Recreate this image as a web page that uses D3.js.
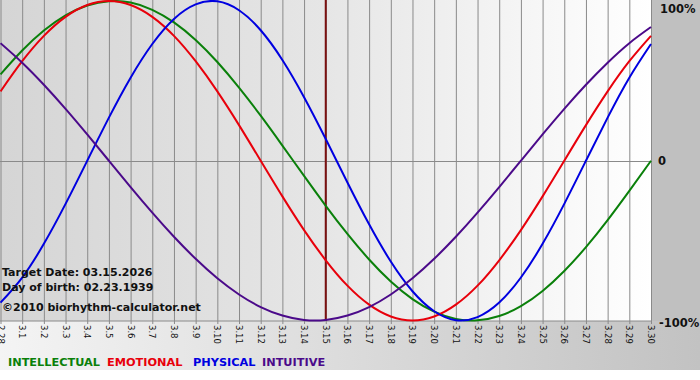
<!DOCTYPE html>
<html>
<head>
<meta charset="utf-8">
<script src="https://cdn.jsdelivr.net/npm/d3@7"></script>
<style>
  html, body { margin: 0; padding: 0; background: #ffffff; }
  svg { display: block; }
  text { font-family: "DejaVu Sans", Verdana, sans-serif; }
</style>
</head>
<body>
<svg id="chart" width="700" height="380"></svg>
<script>
// ---- data ----
const days = ["2.28","3.1","3.2","3.3","3.4","3.5","3.6","3.7","3.8","3.9","3.10",
  "3.11","3.12","3.13","3.14","3.15","3.16","3.17","3.18","3.19","3.20",
  "3.21","3.22","3.23","3.24","3.25","3.26","3.27","3.28","3.29","3.30"];
const intellectual = [0.541,0.690,0.815,0.910,0.972,0.999,0.990,0.945,0.866,0.756,0.618,
  0.458,0.282,0.095,-0.095,-0.282,-0.458,-0.618,-0.756,-0.866,-0.945,
  -0.990,-0.999,-0.972,-0.910,-0.815,-0.690,-0.541,-0.372,-0.189,0.000];
const emotional = [0.434,0.623,0.782,0.901,0.975,1.000,0.975,0.901,0.782,0.623,0.434,
  0.223,0.000,-0.223,-0.434,-0.623,-0.782,-0.901,-0.975,-1.000,-0.975,
  -0.901,-0.782,-0.623,-0.434,-0.223,0.000,0.223,0.434,0.623,0.782];
const physical = [-0.888,-0.731,-0.520,-0.270,0.000,0.270,0.520,0.731,0.888,0.979,0.998,
  0.942,0.817,0.631,0.398,0.136,-0.136,-0.398,-0.631,-0.817,-0.942,
  -0.998,-0.979,-0.888,-0.731,-0.520,-0.270,0.000,0.270,0.520,0.731];
const intuitive = [0.736,0.614,0.476,0.325,0.165,0.000,-0.165,-0.325,-0.476,-0.614,-0.736,
  -0.837,-0.916,-0.969,-0.997,-0.997,-0.969,-0.916,-0.837,-0.736,-0.614,
  -0.476,-0.325,-0.165,0.000,0.165,0.325,0.476,0.614,0.736,0.837];
const seriesNames = ["INTELLECTUAL","EMOTIONAL","PHYSICAL","INTUITIVE"];
const seriesColors = ["#0a800a","#e8000b","#0000e0","#4b0a8a"];
const yTickValues = [1, 0, -1];
const yTickLabels = ["100%", "0", "-100%"];
const targetDay = "3.15";
const infoLines = ["Target Date: 03.15.2026", "Day of birth: 02.23.1939", "©2010 biorhythm-calculator.net"];

// ---- layout ----
const W = 700, H = 380;
const plot = {left: 0.5, right: 651, top: 1, bottom: 320.5};
const svg = d3.select("#chart");
const defs = svg.append("defs");

const gPlot = defs.append("linearGradient").attr("id", "plotBg")
  .attr("x1", "0").attr("x2", "1").attr("y1", "0").attr("y2", "0");
gPlot.append("stop").attr("offset", "0").attr("stop-color", "#d5d5d5");
gPlot.append("stop").attr("offset", "0.5").attr("stop-color", "#e6e6e6");
gPlot.append("stop").attr("offset", "1").attr("stop-color", "#ffffff");

const gBand = defs.append("linearGradient").attr("id", "bandBg")
  .attr("x1", "0").attr("x2", "1").attr("y1", "0").attr("y2", "0");
gBand.append("stop").attr("offset", "0").attr("stop-color", "#f4f4f4");
gBand.append("stop").attr("offset", "1").attr("stop-color", "#c2c2c2");

// backgrounds
svg.append("rect").attr("x", 0).attr("y", 0).attr("width", W).attr("height", H).attr("fill", "#ffffff");
svg.append("rect").attr("x", 0).attr("y", 321).attr("width", W).attr("height", 49).attr("fill", "url(#bandBg)");
svg.append("rect").attr("x", 651).attr("y", 0).attr("width", 49).attr("height", 321).attr("fill", "#c0c0c0");
svg.append("rect").attr("x", 0).attr("y", 0).attr("width", 651).attr("height", 321).attr("fill", "url(#plotBg)");

const x = d3.scalePoint().domain(days).range([plot.left, plot.right]);
const y = d3.scaleLinear().domain([-1, 1]).range([plot.bottom, plot.top]);

// vertical grid + ticks via axis
const xAxis = d3.axisBottom(x).tickSize(324).tickFormat("");
const gx = svg.append("g").call(xAxis);
gx.select(".domain").remove();
gx.selectAll(".tick line").attr("stroke", "#8a8a8a").attr("stroke-width", 1);

// bottom border and zero line
svg.append("line").attr("x1", 0).attr("x2", plot.right).attr("y1", 321).attr("y2", 321)
  .attr("stroke", "#8a8a8a");
svg.append("line").attr("x1", 0).attr("x2", plot.right).attr("y1", Math.round(y(0)) + 0.5).attr("y2", Math.round(y(0)) + 0.5)
  .attr("stroke", "#8a8a8a");

// day labels, rotated
svg.append("g").selectAll("text").data(days).join("text")
  .attr("transform", d => `translate(${x(d)},325) rotate(90)`)
  .attr("dy", "0.35em")
  .attr("font-size", "8.5px")
  .attr("fill", "#111")
  .text(d => d);

// right labels
const yLabelShift = [8, 0, 2];
const yLabelX = [660, 658, 659];
svg.append("g").selectAll("text").data(yTickValues).join("text")
  .attr("x", (d, i) => yLabelX[i])
  .attr("y", (d, i) => y(d) + yLabelShift[i])
  .attr("dy", "0.36em")
  .attr("font-size", "11.5px")
  .attr("font-weight", "bold")
  .attr("fill", "#111")
  .text((d, i) => yTickLabels[i]);

// target line
svg.append("line")
  .attr("x1", x(targetDay)).attr("x2", x(targetDay))
  .attr("y1", 0).attr("y2", 321)
  .attr("stroke", "#7a1010").attr("stroke-width", 2);

// curves
const allSeries = [intellectual, emotional, physical, intuitive];
const line = d3.line()
  .x((d, i) => x(days[i]))
  .y(d => y(d))
  .curve(d3.curveNatural);
svg.append("g").selectAll("path").data(allSeries).join("path")
  .attr("d", d => line(d))
  .attr("fill", "none")
  .attr("stroke", (d, i) => seriesColors[i])
  .attr("stroke-width", 2);

// info text
const infoY = [276, 291, 311];
svg.append("g").selectAll("text").data(infoLines).join("text")
  .attr("x", 2)
  .attr("y", (d, i) => infoY[i])
  .attr("font-size", "11px")
  .attr("font-weight", "bold")
  .attr("fill", "#111")
  .text(d => d);

// legend
const legendX = [8, 107, 193, 262];
svg.append("g").selectAll("text").data(seriesNames).join("text")
  .attr("x", (d, i) => legendX[i])
  .attr("y", 366)
  .attr("font-size", "11.3px")
  .attr("font-weight", "bold")
  .attr("fill", (d, i) => seriesColors[i])
  .text(d => d);
</script>
</body>
</html>
